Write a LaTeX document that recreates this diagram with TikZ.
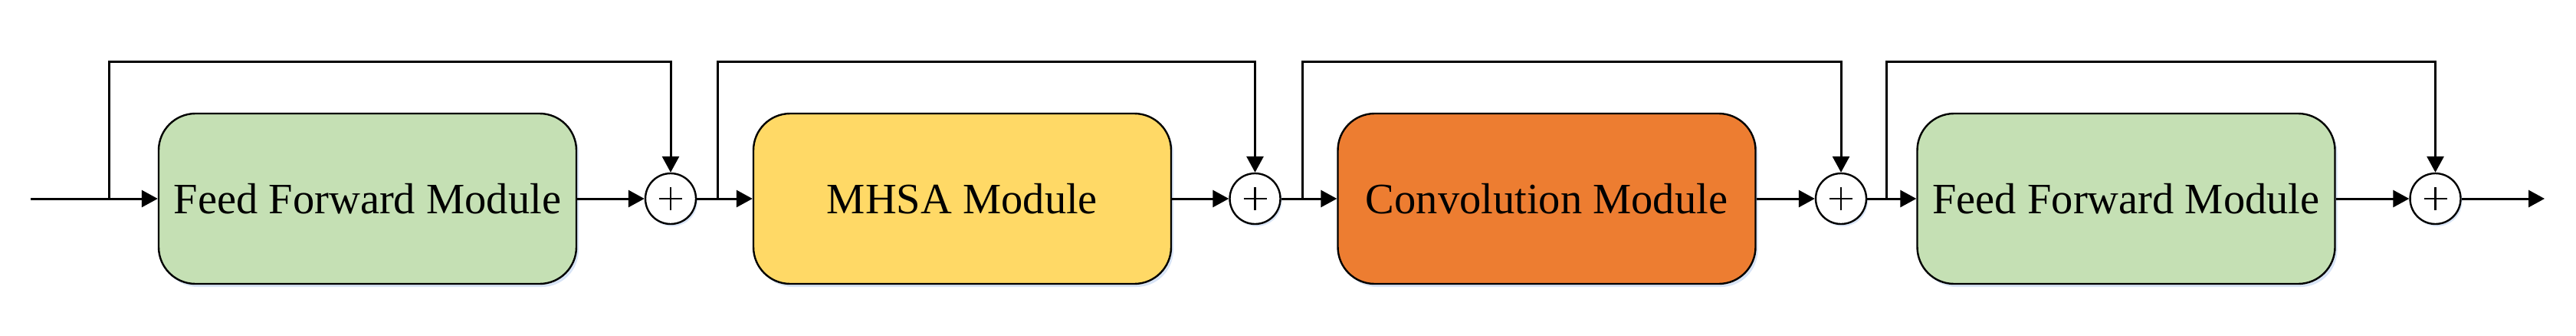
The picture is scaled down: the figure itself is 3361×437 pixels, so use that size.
\documentclass[tikz,border=0pt]{standalone}
\usepackage{fontspec}
\setmainfont{Liberation Serif}
\usetikzlibrary{arrows.meta,shadows}
\definecolor{ffgreen}{HTML}{C5E0B4}
\definecolor{mhsayellow}{HTML}{FFD966}
\definecolor{convorange}{HTML}{ED7D31}
\definecolor{shadowblue}{RGB}{190,210,240}
\tikzset{
  module/.style={draw=black, line width=2.4pt, rounded corners=48pt,
    minimum width=545pt, minimum height=222pt, inner sep=0pt,
    font=\fontsize{56.5}{60}\selectfont,
    drop shadow={shadow xshift=3pt, shadow yshift=-4pt, fill=shadowblue, opacity=0.6}},
  plusnode/.style={circle, draw=black, fill=white, line width=2.4pt, minimum size=66pt, inner sep=0pt,
    drop shadow={shadow xshift=2pt, shadow yshift=-3pt, fill=shadowblue, opacity=0.6},
    path picture={
      \draw[line width=2.4pt] ([xshift=-15pt]path picture bounding box.center) -- ([xshift=15pt]path picture bounding box.center);
      \draw[line width=2.4pt] ([yshift=-15pt]path picture bounding box.center) -- ([yshift=15pt]path picture bounding box.center);
    }},
  conn/.style={line width=3pt, draw=black},
  arr/.style={conn, -{Triangle[length=21pt,width=22pt]}},
}
\begin{document}
\begin{tikzpicture}[x=1pt,y=-1pt]
\useasboundingbox (0,0) rectangle (3361,437);
% modules
\node[module, fill=ffgreen]    (b1) at (479.5,259) {Feed Forward Module};
\node[module, fill=mhsayellow] (b2) at (1255.5,259) {MHSA Module};
\node[module, fill=convorange] (b3) at (2018,259) {Convolution Module};
\node[module, fill=ffgreen]    (b4) at (2774,259) {Feed Forward Module};
% adders
\node[plusnode] (p1) at (875,259) {};
\node[plusnode] (p2) at (1637.5,259) {};
\node[plusnode] (p3) at (2402,259) {};
\node[plusnode] (p4) at (3177.5,259) {};
% coordinates
\coordinate (in)  at (40,259);
\coordinate (out) at (3320,259);
\coordinate (s1) at (142,259);  \coordinate (t1) at (142,80);
\coordinate (s2) at (936,259);  \coordinate (t2) at (936,80);
\coordinate (s3) at (1699,259); \coordinate (t3) at (1699,80);
\coordinate (s4) at (2461,259); \coordinate (t4) at (2461,80);
% main path
\draw[arr] (in) -- (b1.west);
\draw[arr] (b1.east) -- (p1.west);
\draw[arr] (p1.east) -- (b2.west);
\draw[arr] (b2.east) -- (p2.west);
\draw[arr] (p2.east) -- (b3.west);
\draw[arr] (b3.east) -- (p3.west);
\draw[arr] (p3.east) -- (b4.west);
\draw[arr] (b4.east) -- (p4.west);
\draw[arr] (p4.east) -- (out);
% skip connections
\draw[arr] (s1) -- (t1) -| (p1.north);
\draw[arr] (s2) -- (t2) -| (p2.north);
\draw[arr] (s3) -- (t3) -| (p3.north);
\draw[arr] (s4) -- (t4) -| (p4.north);
\end{tikzpicture}
\end{document}
